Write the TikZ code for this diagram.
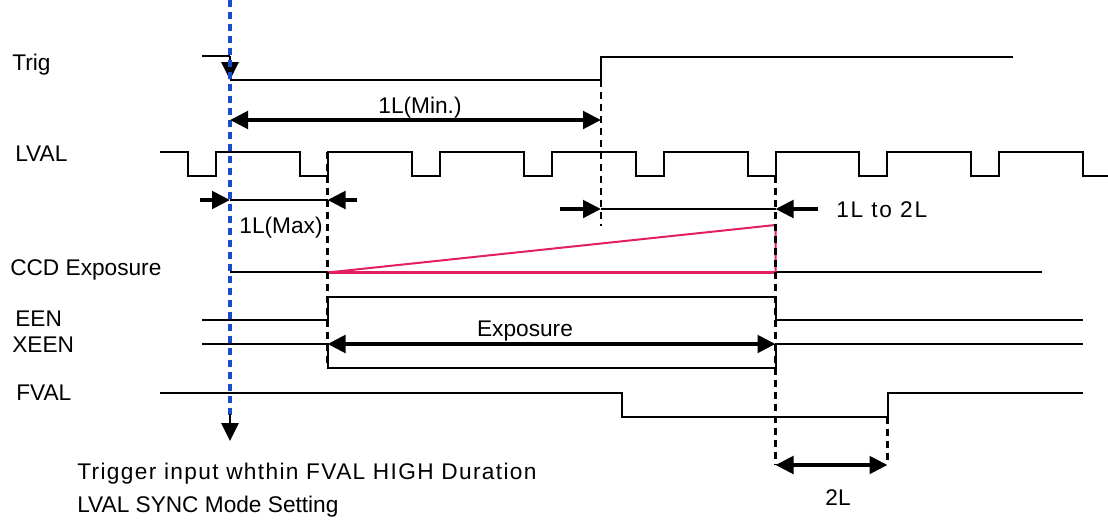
\documentclass[tikz,border=0pt]{standalone}
\usepackage{fontspec}
\setmainfont{Liberation Sans}
\usetikzlibrary{arrows.meta}
\definecolor{trigblue}{RGB}{25,75,205}
\definecolor{expred}{RGB}{228,30,100}
\begin{document}
\begin{tikzpicture}[x=0.75pt,y=-0.75pt,
  sig/.style={line width=1.5pt},
  fat/.style={line width=3pt},
  tip/.style={-{Triangle[length=13.5pt,width=13pt]}},
  tips/.style={{Triangle[length=13.5pt,width=13pt]}-{Triangle[length=13.5pt,width=13pt]}},
  dashline/.style={line width=2pt,dash pattern=on 5.5pt off 3.5pt},
  lbl/.style={inner sep=0pt,font=\fontsize{17}{20}\selectfont},
]
\useasboundingbox (0,0) rectangle (1108,519);

% ---------- named points ----------
\coordinate (t0) at (230,0);
\coordinate (tb) at (230,418);
\coordinate (tarr0) at (230,414);
\coordinate (tarr1) at (230,441);
\coordinate (trigHi) at (202,56);
\coordinate (trigFall) at (230,56);
\coordinate (trigLo) at (230,80);
\coordinate (rise1) at (601,80);
\coordinate (rise2) at (601,57);
\coordinate (trigEnd) at (1013,57);

% ---------- labels ----------
\node[lbl,anchor=base west] (lTrig) at (12,70.5) {Trig};
\node[lbl,anchor=base west] (lLVAL) at (15,161.5) {LVAL};
\node[lbl,anchor=base west] (lCCD) at (10,275) {CCD Exposure};
\node[lbl,anchor=base west] (lEEN) at (15,326) {EEN};
\node[lbl,anchor=base west] (lXEEN) at (12,352) {XEEN};
\node[lbl,anchor=base west] (lFVAL) at (16,400) {FVAL};
\node[lbl,anchor=base west] (lNote1) at (77,479) {\addfontfeature{LetterSpace=6}Trigger input whthin FVAL HIGH Duration};
\node[lbl,anchor=base west] (lNote2) at (77,512) {LVAL SYNC Mode Setting};
\node[lbl,anchor=base] (lMin) at (420,113) {1L(Min.)};
\node[lbl,anchor=base] (lMax) at (281,233) {1L(Max)};
\node[lbl,anchor=base west] (l12) at (836,217) {\addfontfeature{LetterSpace=8}1L to 2L};
\node[lbl,anchor=base] (lExp) at (525,336) {Exposure};
\node[lbl,anchor=base] (l2L) at (838,505) {2L};

% ---------- Trig ----------
\draw[sig] (trigHi) -- (trigFall);
\draw[sig] (trigLo) -- (rise1) -- (rise2) -- (trigEnd);
\draw[sig,tip] (trigFall) -- (trigLo);

% ---------- LVAL ----------
\draw[sig] (160,152)
  foreach \k in {0,...,7} { -- ({188+111.9*\k},152) -- ({188+111.9*\k},176)
                            -- ({216+111.9*\k},176) -- ({216+111.9*\k},152) }
  -- (1083.2,152) -- (1083.2,176) -- (1108,176);

% ---------- CCD exposure ----------
\draw[sig] (230,272) -- (1042,272);
\coordinate (cA) at (327.5,272.5);
\coordinate (cB) at (775.5,225);
\coordinate (cC) at (775.5,272.5);
\draw[expred,line width=1.5pt] (cA) -- (cB) -- (cC);
\draw[expred,line width=2.4pt] (cA) -- (cC);

% ---------- EEN ----------
\draw[sig] (202,320) -- (327.5,320) -- (327.5,297) -- (775.5,297) -- (775.5,320) -- (1083,320);
% ---------- XEEN ----------
\draw[sig] (202,344) -- (327.5,344) -- (327.5,368) -- (775.5,368) -- (775.5,344) -- (1083,344);
% ---------- FVAL ----------
\draw[sig] (160,393) -- (622,393) -- (622,417) -- (887.5,417) -- (887.5,393) -- (1083,393);

% ---------- dashed markers ----------
\draw[dashline] (327.5,152) -- (327.5,368);
\draw[dashline] (601,80) -- (601,226);
\draw[dashline] (775.5,176) -- (775.5,465);
\draw[dashline] (887.5,417) -- (887.5,465);
\draw[trigblue,line width=2.6pt,dash pattern=on 5.5pt off 3.5pt] (t0) -- (tb);
\draw[sig,tip] (tarr0) -- (tarr1);

% ---------- measurement arrows ----------
\coordinate (minA) at (230,120);
\coordinate (minB) at (601,120);
\draw[fat,tips] (minA) -- (minB);

\coordinate (maxA) at (230,200);
\coordinate (maxB) at (327.5,200);
\coordinate (maxAo) at (200,200);
\coordinate (maxBo) at (357,200);
\draw[sig] (maxA) -- (maxB);
\draw[fat,tip] (maxAo) -- (maxA);
\draw[fat,tip] (maxBo) -- (maxB);

\coordinate (ltA) at (601,209);
\coordinate (ltB) at (775.5,209);
\coordinate (ltAo) at (560,209);
\coordinate (ltBo) at (818,209);
\draw[sig] (ltA) -- (ltB);
\draw[fat,tip] (ltAo) -- (ltA);
\draw[fat,tip] (ltBo) -- (ltB);

\coordinate (exA) at (327.5,344);
\coordinate (exB) at (775.5,344);
\draw[fat,tips] (exA) -- (exB);

\coordinate (twA) at (775.5,465);
\coordinate (twB) at (887.5,465);
\draw[fat,tips] (twA) -- (twB);
\end{tikzpicture}
\end{document}
